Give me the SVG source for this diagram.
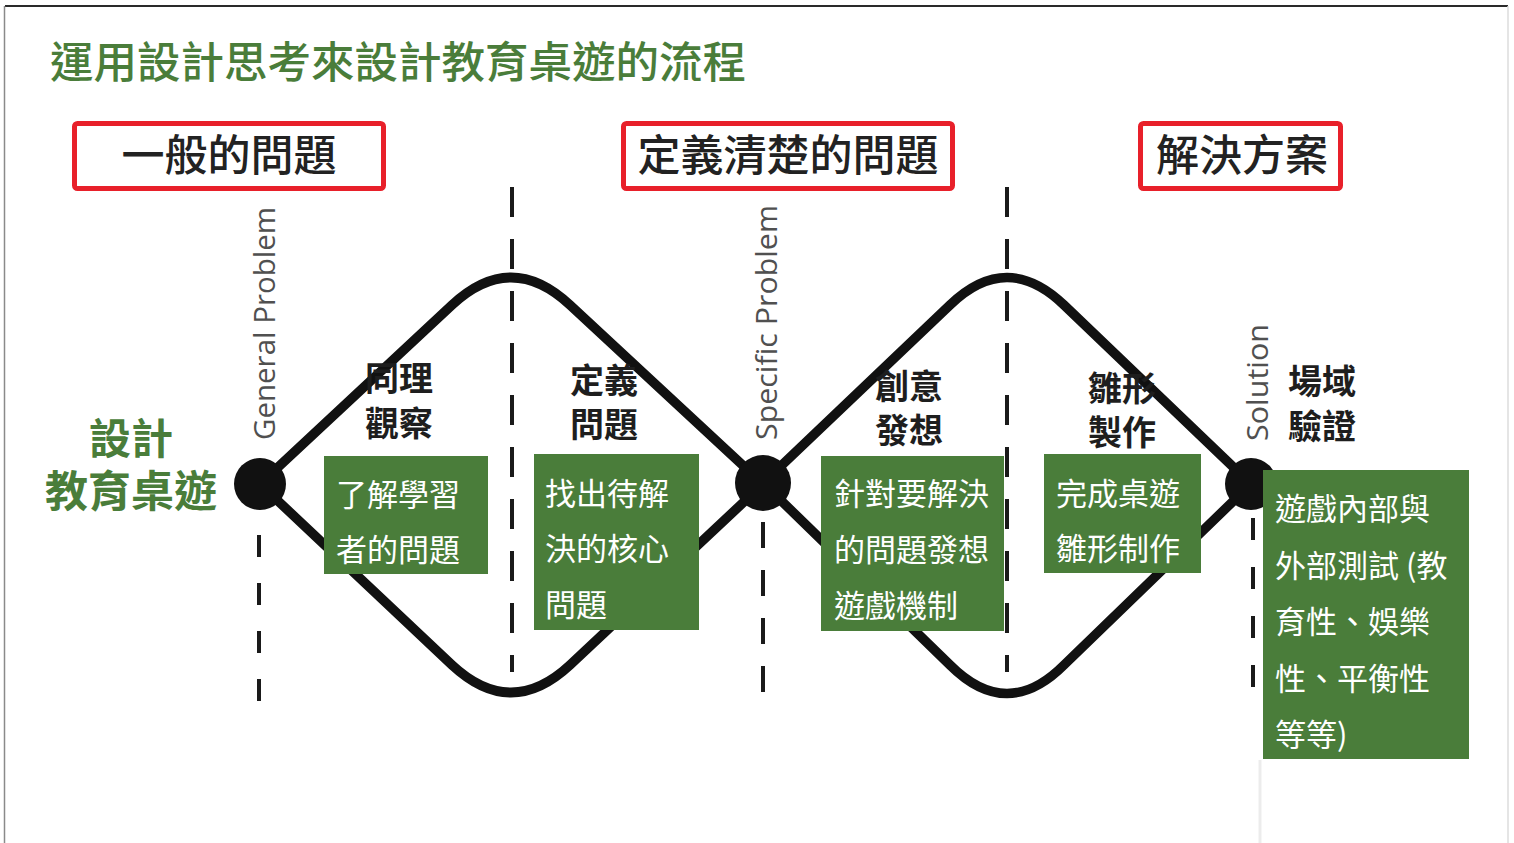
<svg xmlns="http://www.w3.org/2000/svg" width="1514" height="843" viewBox="0 0 1514 843">
<style>
.cjk{font-family:"Noto Sans CJK TC","Noto Sans CJK SC",sans-serif}
.title{font-size:43.5px;font-weight:500;fill:#4a7d3a}
.side{font-size:42px;font-weight:700;fill:#4a7d3a;text-anchor:middle}
.phase{font-size:43px;font-weight:500;fill:#222;text-anchor:middle}
.redbox{fill:#fff;stroke:#e8202a;stroke-width:5}
.lbl{font-size:34px;font-weight:700;fill:#1e1e1e;text-anchor:middle}
.gbox{fill:#4a7d3a}
.gtxt{font-size:31px;font-weight:400;fill:#fff}
.rot{font-family:"Open Sans","Liberation Sans",sans-serif;font-size:29px;fill:#505050}
.curve{fill:none;stroke:#111;stroke-width:9.5;stroke-linecap:round;stroke-linejoin:round}
.dash{fill:none;stroke:#1a1a1a;stroke-width:4}
.node{fill:#111}
</style>
<rect x="0" y="0" width="1514" height="843" fill="#fff"/>
<line x1="5" y1="6" x2="1508" y2="6" stroke="#2a2a2a" stroke-width="2"/>
<line x1="4.5" y1="6" x2="4.5" y2="843" stroke="#8a8a8a" stroke-width="1.5"/>
<line x1="1508" y1="6" x2="1508" y2="843" stroke="#dddddd" stroke-width="1.5"/>
<line x1="1260" y1="760" x2="1260" y2="843" stroke="#ececec" stroke-width="3"/>

<text class="cjk title" x="50" y="78">運用設計思考來設計教育桌遊的流程</text>

<g id="header-general">
<rect class="redbox" x="74.5" y="123.5" width="309" height="65" rx="3"/>
<text class="cjk phase" x="229" y="171">一般的問題</text>
</g>
<g id="header-specific">
<rect class="redbox" x="623.5" y="123.5" width="329" height="65" rx="3"/>
<text class="cjk phase" x="788" y="171">定義清楚的問題</text>
</g>
<g id="header-solution">
<rect class="redbox" x="1140.5" y="123.5" width="200" height="65" rx="3"/>
<text class="cjk phase" x="1242" y="171">解決方案</text>
</g>

<g id="side-label">
<text class="cjk side" x="131" y="454">設計</text>
<text class="cjk side" x="131" y="507" style="font-size:43px">教育桌遊</text>
</g>

<g id="connectors">
<path class="curve" d="M260,484 L452,305 Q511,250 570,305 L763,484"/>
<path class="curve" d="M260,484 L452,665 Q511,720 570,665 L763,484"/>
<path class="curve" d="M763,483 L950,305 Q1007,250 1064,305 L1251,484"/>
<path class="curve" d="M763,483 L950,665 Q1007,722 1064,665 L1251,484"/>
<line class="dash" x1="512" y1="187" x2="512" y2="672" stroke-dasharray="30 22"/>
<line class="dash" x1="1007" y1="187" x2="1007" y2="672" stroke-dasharray="30 22"/>
<line class="dash" x1="259" y1="535" x2="259" y2="703" stroke-dasharray="22 26"/>
<line class="dash" x1="763" y1="522" x2="763" y2="692" stroke-dasharray="26 22"/>
<line class="dash" x1="1253" y1="518" x2="1253" y2="690" stroke-dasharray="22 27"/>
</g>

<g id="node-general">
<circle class="node" cx="260" cy="484" r="26"/>
<text class="rot" transform="translate(275,440) rotate(-90)" textLength="233" lengthAdjust="spacingAndGlyphs">General Problem</text>
</g>
<g id="node-specific">
<circle class="node" cx="763" cy="483" r="28"/>
<text class="rot" transform="translate(777,440) rotate(-90)" textLength="235" lengthAdjust="spacingAndGlyphs">Specific Problem</text>
</g>
<g id="node-solution">
<circle class="node" cx="1251" cy="484" r="26"/>
<text class="rot" transform="translate(1268,441) rotate(-90)" textLength="117" lengthAdjust="spacingAndGlyphs">Solution</text>
</g>

<g id="step-empathize">
<text class="cjk lbl" x="399" y="391">同理</text>
<text class="cjk lbl" x="399" y="436">觀察</text>
<rect class="gbox" x="324" y="456" width="164" height="118"/>
<text class="cjk gtxt" x="336" y="506">了解學習</text>
<text class="cjk gtxt" x="336" y="561">者的問題</text>
</g>
<g id="step-define">
<text class="cjk lbl" x="604" y="393">定義</text>
<text class="cjk lbl" x="604" y="437">問題</text>
<rect class="gbox" x="534" y="454" width="165" height="176"/>
<text class="cjk gtxt" x="545" y="505">找出待解</text>
<text class="cjk gtxt" x="545" y="560">決的核心</text>
<text class="cjk gtxt" x="545" y="616">問題</text>
</g>
<g id="step-ideate">
<text class="cjk lbl" x="909" y="399">創意</text>
<text class="cjk lbl" x="909" y="443">發想</text>
<rect class="gbox" x="821" y="456" width="183" height="175"/>
<text class="cjk gtxt" x="834" y="505">針對要解決</text>
<text class="cjk gtxt" x="834" y="561">的問題發想</text>
<text class="cjk gtxt" x="834" y="617">遊戲機制</text>
</g>
<g id="step-prototype">
<text class="cjk lbl" x="1122" y="401">雛形</text>
<text class="cjk lbl" x="1122" y="445">製作</text>
<rect class="gbox" x="1044" y="454" width="157" height="119"/>
<text class="cjk gtxt" x="1056" y="505">完成桌遊</text>
<text class="cjk gtxt" x="1056" y="560">雛形制作</text>
</g>
<g id="step-test">
<text class="cjk lbl" x="1322" y="394">場域</text>
<text class="cjk lbl" x="1322" y="439">驗證</text>
<rect class="gbox" x="1263" y="470" width="206" height="289"/>
<text class="cjk gtxt" x="1275" y="520">遊戲內部與</text>
<text class="cjk gtxt" x="1275" y="577">外部測試 (教</text>
<text class="cjk gtxt" x="1275" y="633">育性、娛樂</text>
<text class="cjk gtxt" x="1275" y="690">性、平衡性</text>
<text class="cjk gtxt" x="1275" y="746">等等)</text>
</g>
</svg>
